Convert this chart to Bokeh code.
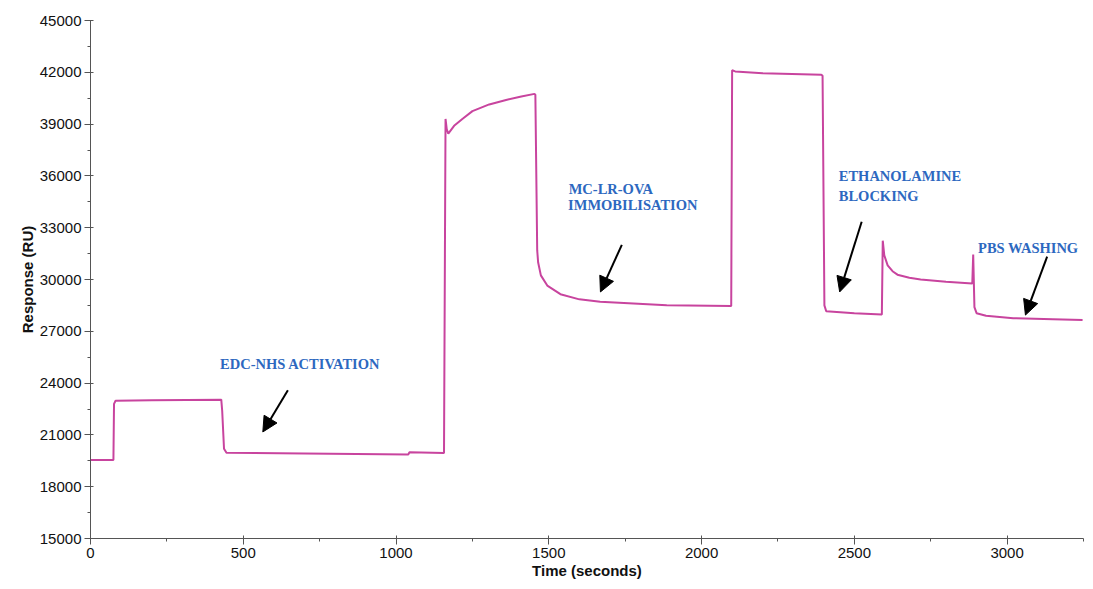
from bokeh.plotting import figure
from bokeh.models import Range1d, FixedTicker, Arrow, NormalHead, ColumnDataSource
from bokeh.core.properties import value
from bokeh.embed import file_html
from bokeh.resources import INLINE

# Sensorgram: time (s) and response (RU)
time_s = [0, 75, 77, 82, 200, 428, 431, 437, 445, 700, 1040, 1044, 1157,
          1162, 1166, 1171, 1190, 1217, 1250, 1305, 1360, 1410, 1453, 1456,
          1462, 1465, 1474, 1495, 1538, 1600, 1668, 1886, 2097,
          2100, 2110, 2200, 2392, 2396, 2402, 2408, 2500, 2590,
          2593, 2598, 2609, 2625, 2641, 2680, 2717, 2800, 2886,
          2889, 2893, 2900, 2931, 3020, 3150, 3247]
response_ru = [19550, 19550, 22800, 22980, 23010, 23040, 22400, 20200, 19970, 19930, 19870, 20000, 19950,
               39300, 38700, 38450, 38900, 39300, 39750, 40140, 40400, 40600, 40750, 40700,
               31700, 31000, 30240, 29650, 29150, 28850, 28710, 28510, 28470,
               42120, 42050, 41950, 41860, 41800, 28500, 28160, 28050, 27980,
               32250, 31400, 30820, 30480, 30280, 30100, 30000, 29870, 29770,
               31450, 28400, 28050, 27900, 27760, 27700, 27650]

# Axis ticks
x_ticks = [0, 500, 1000, 1500, 2000, 2500, 3000]
x_minor = [250, 750, 1250, 1750, 2250, 2750, 3250]
y_ticks = [15000, 18000, 21000, 24000, 27000, 30000, 33000, 36000, 39000, 42000, 45000]
y_minor = [16500, 19500, 22500, 25500, 28500, 31500, 34500, 37500, 40500, 43500]

# Annotations
ann_text = ["EDC-NHS ACTIVATION", "MC-LR-OVA", "IMMOBILISATION", "ETHANOLAMINE", "BLOCKING", "PBS WASHING"]
ann_x = [424, 1565, 1563, 2449, 2449, 2905]
ann_y = [25580, 35700, 34750, 36430, 35290, 32280]

arrow_x0 = [646, 1739, 2524, 3131]
arrow_y0 = [23590, 32010, 33345, 31330]
arrow_x1 = [564, 1669, 2452, 3060]
arrow_y1 = [21170, 29280, 29280, 27940]

p = figure(width=1085, height=581, output_backend="svg", toolbar_location=None,
           x_range=Range1d(0, 3250), y_range=Range1d(15000, 45000),
           min_border_left=90, min_border_right=2, min_border_top=20, min_border_bottom=43)
p.outline_line_color = None
p.xgrid.grid_line_color = None
p.ygrid.grid_line_color = None
p.background_fill_color = "white"

p.line(time_s, response_ru, line_color="#c8449e", line_width=2)

for ax, ticks, minor in ((p.xaxis[0], x_ticks, x_minor), (p.yaxis[0], y_ticks, y_minor)):
    ax.ticker = FixedTicker(ticks=ticks, minor_ticks=minor)
    ax.axis_line_color = "#555555"
    ax.major_tick_line_color = "#555555"
    ax.minor_tick_line_color = "#555555"
    ax.major_tick_out = 6
    ax.major_tick_in = 3
    ax.minor_tick_out = 3
    ax.minor_tick_in = 0
    ax.major_label_text_font = "Liberation Sans"
    ax.major_label_text_font_size = "15px"
    ax.major_label_text_color = "#111111"
    ax.major_label_standoff = 3
    ax.axis_label_text_font = "Liberation Sans"
    ax.axis_label_text_font_style = "bold"
    ax.axis_label_text_font_size = "15px"
    ax.axis_label_text_color = "#111111"
    ax.axis_label_standoff = 1

p.xaxis.axis_label = "Time (seconds)"
p.yaxis.axis_label = "Response (RU)"

src = ColumnDataSource(dict(x=ann_x, y=ann_y, t=ann_text))
p.text(x="x", y="y", text="t", source=src, text_font=value("Liberation Serif"),
       text_font_style="bold", text_font_size=value("14.5px"), text_color="#2d68c0",
       text_baseline="top", text_align="left")

for xs, ys, xe, ye in zip(arrow_x0, arrow_y0, arrow_x1, arrow_y1):
    p.add_layout(Arrow(x_start=xs, y_start=ys, x_end=xe, y_end=ye, line_width=2, line_color="black",
                       end=NormalHead(size=15, fill_color="black", line_color="black")))

open("out.html", "w").write(file_html(p, INLINE))
